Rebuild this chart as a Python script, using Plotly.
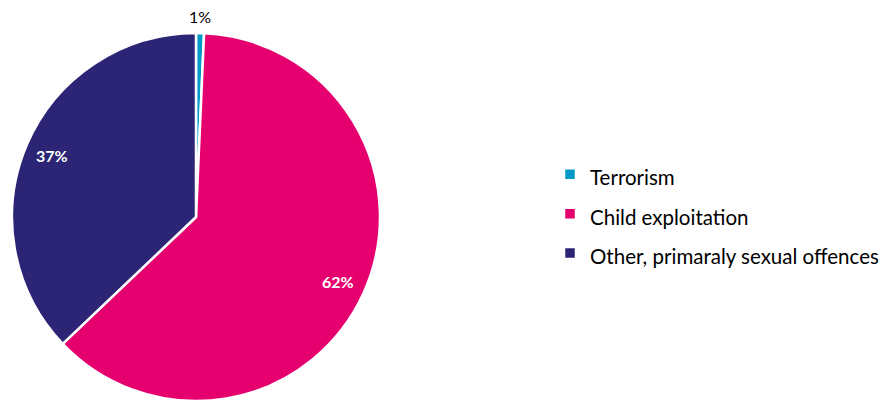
import math
import plotly.graph_objects as go

categories = ["Terrorism", "Child exploitation", "Other, primaraly sexual offences"]
values = [0.7, 62.2, 37.1]
colors = ["#0099C8", "#E6006F", "#2C2474"]
label_colors = ["#000000", "#FFFFFF", "#FFFFFF"]
label_bold = [False, True, True]
label_radius = [1.09, 0.85, 0.85]   # fraction of pie radius where label sits

W, H = 889, 402
ML, MR, MT, MB = 0, 0, 33, 1
PW, PH = W - ML - MR, H - MT - MB
CX_PX, R_PX = 196, 184  # pie centre x (px from plot left) and radius

fig = go.Figure(go.Pie(
    labels=[f'<span style="font-size:20.5px">{c}</span>' for c in categories],
    values=values,
    sort=False,
    direction="clockwise",
    rotation=0,
    marker=dict(colors=colors, line=dict(color="white", width=2.5)),
    textinfo="none",
    automargin=False,
    domain=dict(x=[(CX_PX - R_PX) / PW, (CX_PX + R_PX) / PW], y=[0, 1]),
    hoverinfo="label+percent",
))

# percentage labels placed along each slice's bisector
total = sum(values)
cum = 0.0
cy_px = PH / 2
for v, col, bold, rf in zip(values, label_colors, label_bold, label_radius):
    mid = (cum + v / 2) / total * 2 * math.pi
    cum += v
    x_px = CX_PX + rf * R_PX * math.sin(mid)
    y_px = cy_px + rf * R_PX * math.cos(mid)
    pct = f"{round(v / total * 100)}%"
    fig.add_annotation(
        x=x_px / PW, y=y_px / PH, xref="paper", yref="paper",
        text=f"<b>{pct}</b>" if bold else pct,
        showarrow=False,
        font=dict(family="Lato", size=16, color=col),
        xanchor="center", yanchor="middle",
    )

fig.update_layout(
    width=W, height=H,
    margin=dict(l=ML, r=MR, t=MT, b=MB),
    paper_bgcolor="white",
    plot_bgcolor="white",
    font=dict(family="Lato", color="#000000"),
    showlegend=True,
    legend=dict(
        x=550 / W, y=0.508, xanchor="left", yanchor="middle",
        font=dict(family="Lato", size=28, color="#000000"),
        bgcolor="rgba(0,0,0,0)",
        itemclick=False,
    ),
)

fig.write_html("out.html", config={"displayModeBar": False},
               post_script="document.body.style.margin='0px';")
